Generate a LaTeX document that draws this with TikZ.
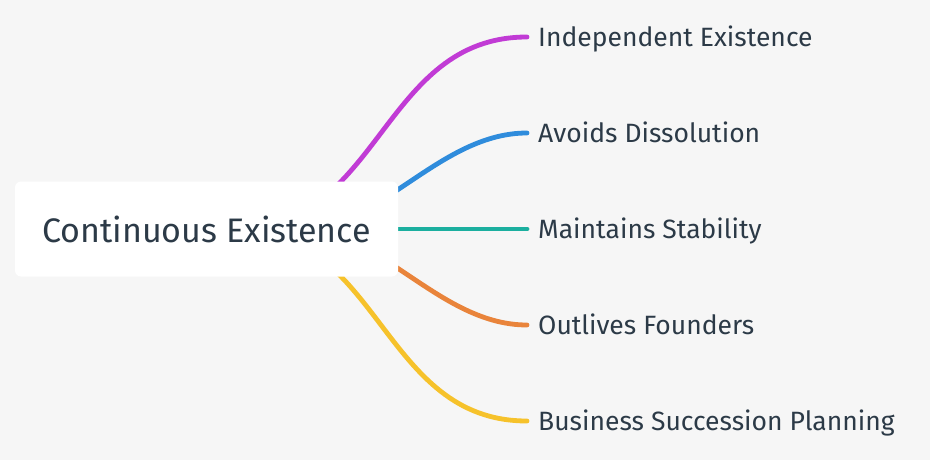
\documentclass[tikz,border=0pt]{standalone}
\usepackage{fontspec}
\setmainfont{Fira Sans}
\usetikzlibrary{positioning}
\pgfdeclarelayer{background}
\pgfsetlayers{background,main}
\definecolor{paper}{HTML}{F6F6F6}
\definecolor{ink}{HTML}{2C3A47}
\definecolor{twigpurple}{HTML}{C13BD5}
\definecolor{twigblue}{HTML}{2F8CDC}
\definecolor{twigteal}{HTML}{1BAF9F}
\definecolor{twigorange}{HTML}{E9843B}
\definecolor{twigyellow}{HTML}{F6C22B}

\begin{document}
\begin{tikzpicture}[
    x=1pt,y=-1pt,
    rootbox/.style={rectangle,rounded corners=6pt,fill=white,text=ink,
        minimum width=383pt,minimum height=95pt,inner sep=0pt,
        font=\fontsize{34}{40}\selectfont},
    leaf/.style={anchor=west,inner xsep=11pt,inner ysep=0pt,text=ink,
        text height=18.2pt,text depth=0pt,font=\fontsize{26.5}{31}\selectfont},
    twig/.style={line width=4.8pt,line cap=round}
]
    \node[rootbox] (root) at (206.5,229) {Continuous Existence};
    \coordinate (hubfar) at (235,229);
    \coordinate (hubnear) at (300,229);

    % leaves, top to bottom
    \foreach \name/\y/\label in {
        indep/37/Independent Existence,
        avoid/133/Avoids Dissolution,
        stable/229/Maintains Stability,
        outlive/325/Outlives Founders,
        succeed/421/Business Succession Planning
    }
        \node[leaf] (\name) at (527,\y) {\label};

    % twigs run from behind the root box
    \begin{pgfonlayer}{background}
    \fill[paper] (0,0) rectangle (930,460);
    \foreach \name/\hub/\y/\ca/\cb/\hue in {
        indep/hubfar/37/381/381/twigpurple,
        avoid/hubnear/133/380/440/twigblue,
        stable/hubnear/229/380/440/twigteal,
        outlive/hubnear/325/380/440/twigorange,
        succeed/hubfar/421/381/381/twigyellow}
        \draw[twig,\hue] (\hub) .. controls (\ca,229) and (\cb,\y) .. (\name.west);
    \end{pgfonlayer}
\end{tikzpicture}
\end{document}
